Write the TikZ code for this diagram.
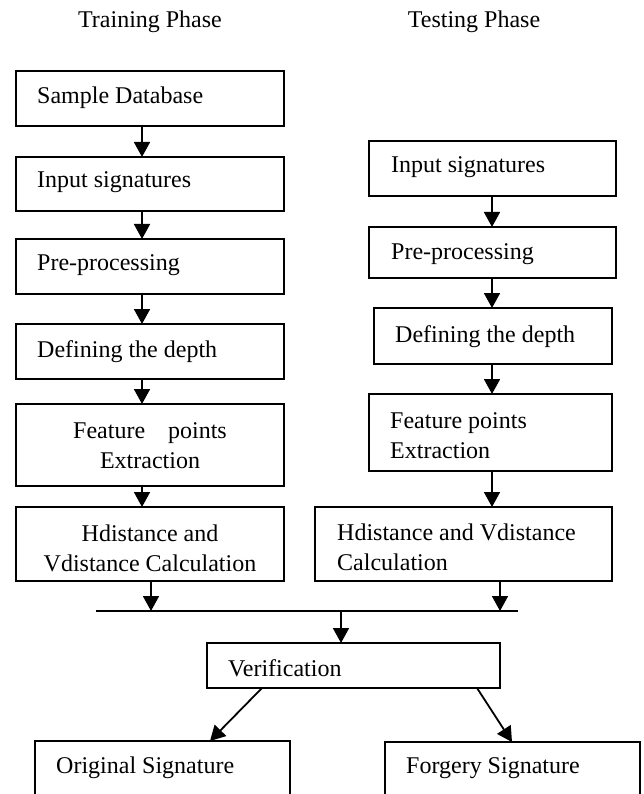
\documentclass[tikz,border=0pt]{standalone}
\usepackage{fontspec}
\setmainfont{Liberation Serif}
\usetikzlibrary{arrows.meta}
\tikzset{
  box/.style={draw=black, line width=1.6pt, inner sep=0pt, outer sep=0pt},
  txt/.style={font=\fontsize{24}{30}\selectfont, inner sep=0pt, text=black},
  arr/.style={line width=1.8pt, -{Triangle[length=15pt,width=16pt]}},
  bus/.style={line width=1.6pt}
}
\newcommand{\mybox}[5]{\node[box, anchor=north west, minimum width={(#4-#2)*1pt}, minimum height={(#5-#3)*1pt}] (#1) at (#2,#3) {};}
\begin{document}
\begin{tikzpicture}[x=1pt,y=-1pt]
\useasboundingbox (0,0) rectangle (644,794);
\clip (0,0) rectangle (644,794);
% titles
\node[txt, anchor=base] (t1) at (150,28) {Training Phase};
\node[txt, anchor=base] (t2) at (474,28) {Testing Phase};
% left column
\mybox{l1}{16}{71}{284}{126}
\mybox{l2}{16}{157}{284}{211}
\mybox{l3}{16}{239}{284}{294}
\mybox{l4}{16}{324}{284}{379}
\mybox{l5}{16}{404}{284}{486}
\mybox{l6}{16}{507}{284}{581}
% right column
\mybox{r1}{369}{141}{616}{196}
\mybox{r2}{369}{227}{616}{278}
\mybox{r3}{374}{308}{612}{364}
\mybox{r4}{369}{394}{612}{471}
\mybox{r5}{315}{507}{612}{581}
% bottom
\mybox{v}{207}{643}{500}{688}
\mybox{o}{35}{741}{290}{810}
\mybox{f}{385}{742}{640}{810}
% texts
\node[txt, anchor=base west] (l1t) at (37,104) {Sample Database};
\node[txt, anchor=base west] (l2t) at (37,188) {Input signatures};
\node[txt, anchor=base west] (l3t) at (37,270) {Pre-processing};
\node[txt, anchor=base west] (l4t) at (37,357) {Defining the depth};
\node[txt, anchor=base] (l5a) at (150,438) {Feature\hspace{23pt}points};
\node[txt, anchor=base] (l5b) at (150,468) {Extraction};
\node[txt, anchor=base] (l6a) at (150,541) {Hdistance and};
\node[txt, anchor=base] (l6b) at (150,571) {Vdistance Calculation};
\node[txt, anchor=base west] (r1t) at (391,173) {Input signatures};
\node[txt, anchor=base west] (r2t) at (391,259) {Pre-processing};
\node[txt, anchor=base west] (r3t) at (395,342) {Defining the depth};
\node[txt, anchor=base west] (r4a) at (390,428) {Feature points};
\node[txt, anchor=base west] (r4b) at (390,458) {Extraction};
\node[txt, anchor=base west] (r5a) at (337,540) {Hdistance and Vdistance};
\node[txt, anchor=base west] (r5b) at (337,570) {Calculation};
\node[txt, anchor=base west] (vt) at (228,676) {Verification};
\node[txt, anchor=base west] (ot) at (56,773) {Original Signature};
\node[txt, anchor=base west] (ft) at (406,773) {Forgery Signature};
% guide coordinates
\coordinate (xl) at (142,0);
\coordinate (xr) at (492,0);
\coordinate (xlh) at (151,0);
\coordinate (xrh) at (500,0);
\coordinate (xv) at (341,0);
\coordinate (busL) at (96,611);
\coordinate (busR) at (518,611);
\coordinate (vo) at (262,688);
\coordinate (vf) at (477,688);
\coordinate (otip) at (210,741);
\coordinate (ftip) at (512,742);
% connectors left
\draw[arr] (l1.south -| xl) -- (l2.north -| xl);
\draw[arr] (l2.south -| xl) -- (l3.north -| xl);
\draw[arr] (l3.south -| xl) -- (l4.north -| xl);
\draw[arr] (l4.south -| xl) -- (l5.north -| xl);
\draw[arr] (l5.south -| xl) -- (l6.north -| xl);
% connectors right
\draw[arr] (r1.south -| xr) -- (r2.north -| xr);
\draw[arr] (r2.south -| xr) -- (r3.north -| xr);
\draw[arr] (r3.south -| xr) -- (r4.north -| xr);
\draw[arr] (r4.south -| xr) -- (r5.north -| xr);
% bus
\draw[bus] (busL) -- (busR);
\draw[arr] (l6.south -| xlh) -- (busL -| xlh);
\draw[arr] (r5.south -| xrh) -- (busL -| xrh);
\draw[arr] (busL -| xv) -- (v.north -| xv);
% outputs
\draw[arr] (vo) -- (otip);
\draw[arr] (vf) -- (ftip);
\end{tikzpicture}
\end{document}
